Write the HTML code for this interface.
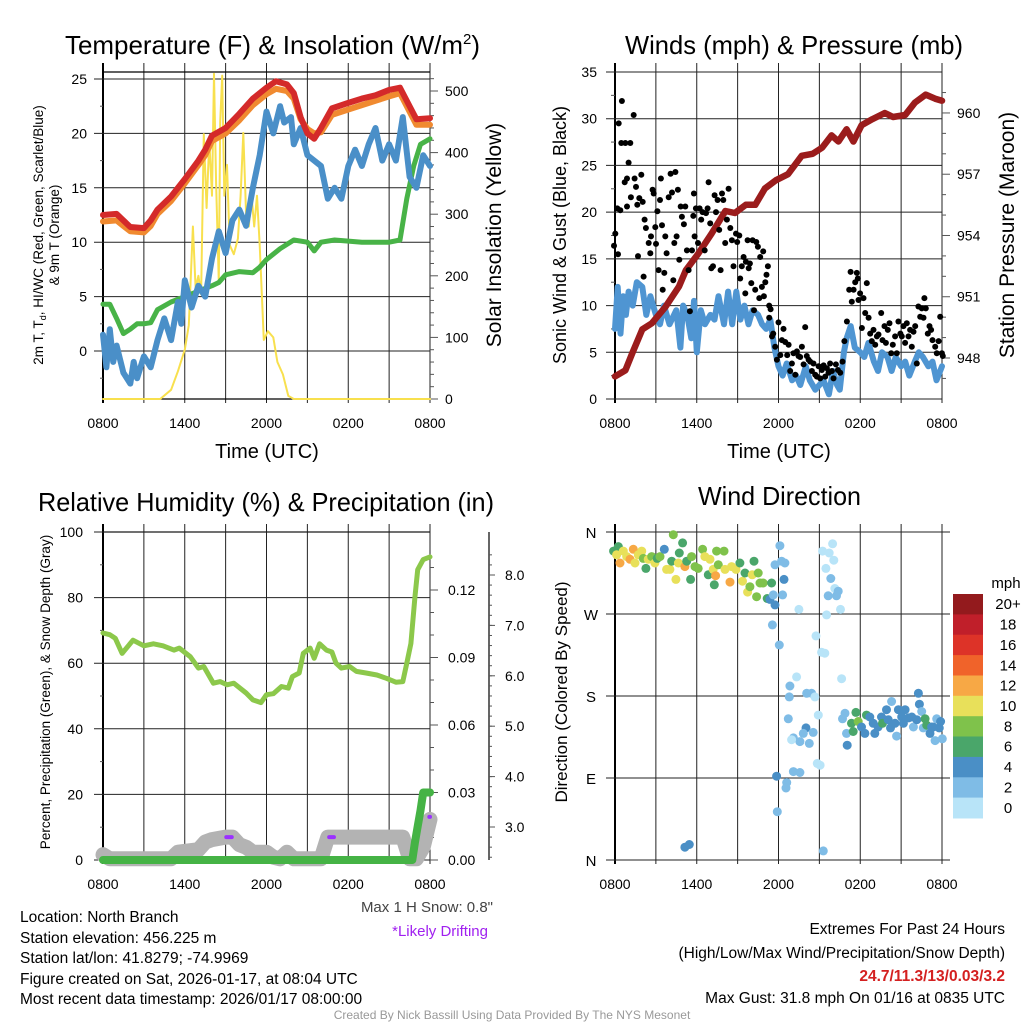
<!DOCTYPE html>
<html><head><meta charset="utf-8"><title>NYS Mesonet North Branch Meteogram</title>
<style>
html,body{margin:0;padding:0;background:#fff;}
svg{display:block;font-family:"Liberation Sans",sans-serif;}
</style></head>
<body>
<svg id="fig" width="1024" height="1024" viewBox="0 0 1024 1024" xmlns="http://www.w3.org/2000/svg">
<rect x="0" y="0" width="1024" height="1024" fill="#fff"/>
<g id="layer"></g>
<!-- titles -->
<text x="65" y="54" font-size="26" textLength="415" lengthAdjust="spacingAndGlyphs">Temperature (F) &amp; Insolation (W/m<tspan font-size="15" dy="-10">2</tspan><tspan dy="10">)</tspan></text>
<text x="625" y="54" font-size="26" textLength="338" lengthAdjust="spacingAndGlyphs">Winds (mph) &amp; Pressure (mb)</text>
<text x="38" y="511" font-size="26" textLength="456" lengthAdjust="spacingAndGlyphs">Relative Humidity (%) &amp; Precipitation (in)</text>
<text x="698" y="505" font-size="26" textLength="163" lengthAdjust="spacingAndGlyphs">Wind Direction</text>
<!-- axis titles -->
<text x="267" y="458" font-size="20" text-anchor="middle">Time (UTC)</text>
<text x="779" y="458" font-size="20" text-anchor="middle">Time (UTC)</text>
<text transform="translate(43,235) rotate(-90)" font-size="13.5" text-anchor="middle">2m T, T<tspan font-size="9" dy="3">d</tspan><tspan dy="-3">, HI/WC (Red, Green, Scarlet/Blue)</tspan></text>
<text transform="translate(59,235) rotate(-90)" font-size="13.5" text-anchor="middle">&amp; 9m T (Orange)</text>
<text transform="translate(501,235) rotate(-90)" font-size="21" text-anchor="middle">Solar Insolation (Yellow)</text>
<text transform="translate(566,235) rotate(-90)" font-size="18" text-anchor="middle">Sonic Wind &amp; Gust (Blue, Black)</text>
<text transform="translate(1014,235) rotate(-90)" font-size="21" text-anchor="middle">Station Pressure (Maroon)</text>
<text transform="translate(50,692) rotate(-90)" font-size="13.5" text-anchor="middle">Percent, Precipitation (Green), &amp; Snow Depth (Gray)</text>
<text transform="translate(567,692) rotate(-90)" font-size="17" text-anchor="middle">Direction (Colored By Speed)</text>
<!-- notes -->
<text x="493" y="912" font-size="15" text-anchor="end" fill="#444">Max 1 H Snow: 0.8"</text>
<text x="488" y="936" font-size="15" text-anchor="end" fill="#a020f0">*Likely Drifting</text>
<g font-size="15.5">
<text x="20" y="922">Location: North Branch</text>
<text x="20" y="943">Station elevation: 456.225 m</text>
<text x="20" y="963">Station lat/lon: 41.8279; -74.9969</text>
<text x="20" y="984">Figure created on Sat, 2026-01-17, at 08:04 UTC</text>
<text x="20" y="1004">Most recent data timestamp: 2026/01/17 08:00:00</text>
</g>
<g font-size="15.5" text-anchor="end">
<text x="1005" y="934">Extremes For Past 24 Hours</text>
<text x="1005" y="958">(High/Low/Max Wind/Precipitation/Snow Depth)</text>
<text x="1005" y="981" fill="#d42020" font-weight="bold">24.7/11.3/13/0.03/3.2</text>
<text x="1005" y="1003">Max Gust: 31.8 mph On 01/16 at 0835 UTC</text>
</g>
<text x="512" y="1019" font-size="12" text-anchor="middle" fill="#999">Created By Nick Bassill Using Data Provided By The NYS Mesonet</text>
</svg>
<script>
// ---------- DATA ----------
const timeLabels = ["0800","1400","2000","0200","0800"];
// Temperature panel
const tempHours = [0,1,1.5,2,3,3.5,4,5,6,7,7.5,8,9,10,11,12,12.7,13.5,14,14.5,15,15.5,16,16.8,18,19,20,21,21.8,22.5,23,24];
const tempValues = [12.5,12.6,12.0,11.4,11.3,12.0,13.0,14.2,15.8,17.5,18.5,19.8,20.5,21.8,23.2,24.2,24.8,24.5,23.7,21.5,20.0,19.5,20.5,22.3,22.8,23.2,23.5,24.0,24.2,22.5,21.3,21.4];
const temp9mValues = [11.9,12.0,11.5,11.0,10.9,11.5,12.6,13.8,15.4,17.1,18.0,19.3,20.0,21.2,22.6,23.6,24.1,23.9,23.2,21.3,20.4,20.0,20.1,21.7,22.2,22.6,23.0,23.4,23.7,22.0,20.8,20.8];
const wcHours = [0,0.25,0.5,0.75,1,1.5,2,2.25,2.5,3,3.5,4,4.5,5,5.5,5.75,6,6.5,7,7.5,8,8.5,9,9.5,10,10.5,11,11.5,12,12.5,13,13.3,13.8,14,14.5,15,16,16.5,17,17.5,18,18.5,19,19.5,20,20.5,21,21.5,22,22.5,23,23.5,24];
const wcValues = [1.5,-1.5,2.0,-1.0,0.5,-2.0,-3.0,-1.0,-2.5,-0.5,-1.5,1.0,3.0,1.0,4.5,2.5,6.5,4.0,6.0,5.0,8.5,11.0,9.0,12.0,13.0,11.5,15.0,18.0,22.0,20.0,22.5,21.0,21.5,19.0,20.5,18.0,17.0,14.0,15.0,14.0,17.0,18.5,17.0,19.0,20.5,17.5,19.0,17.5,21.5,16.0,15.0,18.0,17.0];
const dewHours = [0,0.5,1,1.5,2,2.5,3,3.5,4,5,6,7,8,8.5,9,10,11,11.5,12,13,14,15,15.5,16,17,18,19,20,21,21.8,22.3,22.8,23.3,24];
const dewValues = [4.3,4.3,3.0,1.6,2.0,2.5,2.5,2.6,3.8,4.5,5.0,5.5,6.0,6.3,7.0,7.3,7.2,7.7,8.4,9.4,10.2,10.0,9.2,10.0,10.2,10.1,10.0,10.0,10.0,10.2,14.0,17.0,19.0,19.5];
const solarHours = [0,4.2,5,5.5,6,6.3,6.6,6.8,7,7.2,7.4,7.6,7.8,8.0,8.15,8.3,8.5,8.6,8.75,8.9,9.1,9.3,9.6,9.9,10.1,10.3,10.5,10.7,10.9,11.1,11.3,11.5,11.8,12.1,12.5,12.8,13.2,13.6,14,24];
const solarValues = [0,0,15,45,80,120,280,180,200,170,430,310,420,330,528,350,190,450,525,330,380,250,235,260,330,432,300,280,330,280,330,250,96,110,100,60,40,5,0,0];
const tempTicks = [0,5,10,15,20,25];
const solarTicks = [0,100,200,300,400,500];
// Wind panel
const windHours = [0,0.2,0.4,0.6,0.8,1,1.3,1.6,2,2.3,2.6,3,3.3,3.6,4,4.5,4.8,5,5.3,5.6,5.8,6,6.3,6.6,7,7.3,7.6,8,8.3,8.6,8.9,9.2,9.5,9.8,10.1,10.5,10.8,11.1,11.4,11.7,12,12.3,12.6,13,13.3,13.6,14,14.3,14.7,15,15.3,15.7,16,16.3,16.5,16.8,17,17.3,17.6,18,18.3,18.6,19,19.3,19.6,20,20.3,20.6,21,21.3,21.6,22,22.3,22.6,23,23.3,23.6,24];
const windValues = [7.5,12,7,11,9,11.5,10,12.5,12,9,11,9,8,10,8,9.5,5.5,10,9,6.5,10.5,5,9.5,8,9,8.5,11,8,11.5,8,11.5,8.5,10,8,9.5,9,8,7.5,8.5,5.5,3.5,2.5,3.8,2,2.5,1.5,3.5,2,1,1.5,2,0.5,3,1.5,1,5,6.5,7.8,5.5,5,4.5,6,4,3,5,4.5,3,4.5,3.5,4,2.5,4,5,4.5,3.5,4,2,3.5];
const gustHours = [-0.07,0.02,0.17,0.22,0.27,0.39,0.51,0.46,0.76,0.71,0.88,1.0,1.12,1.17,0.88,1.37,1.44,1.54,1.64,1.69,1.78,1.93,2.03,2.10,2.17,2.27,2.47,2.59,2.64,2.76,2.84,2.96,3.01,3.11,3.20,3.30,3.37,3.45,3.50,3.62,3.69,3.79,3.94,4.08,4.18,4.28,4.35,4.43,4.52,4.62,4.72,4.82,4.91,5.06,5.16,5.28,5.40,5.50,5.65,5.75,5.79,5.84,5.94,6.09,6.21,6.33,6.43,6.58,6.68,6.80,6.87,6.99,7.07,7.19,7.31,7.41,7.53,7.65,7.75,7.85,7.95,8.09,8.21,8.34,8.46,8.58,8.70,8.88,8.97,9.12,9.19,9.31,9.44,9.56,9.61,9.73,9.81,9.90,10.00,10.10,10.20,10.29,10.37,10.49,10.59,10.66,10.78,10.88,10.93,11.03,11.12,11.22,11.32,11.42,11.32,11.52,11.61,11.76,11.88,12.00,12.13,12.25,12.37,12.49,12.64,12.74,12.86,12.98,13.10,13.23,13.35,13.47,13.59,13.72,13.84,13.96,14.08,14.21,14.33,14.45,14.57,14.69,14.82,14.94,15.06,15.18,15.31,15.43,15.55,15.67,15.79,15.92,16.04,16.21,16.36,16.53,16.70,16.84,17.02,17.19,17.29,17.38,17.51,17.63,17.75,17.82,17.87,17.99,18.12,18.24,18.36,18.48,18.61,18.73,18.85,18.97,19.10,19.22,19.34,19.54,19.63,19.78,19.88,20.02,20.15,20.27,20.39,20.56,20.68,20.80,20.95,21.05,21.17,21.29,21.42,21.54,21.66,21.78,21.91,22.03,22.15,22.27,22.40,22.52,22.64,22.71,22.81,22.96,23.08,23.20,23.30,23.50,23.62,23.75,23.87,23.99,24.06];
const gustValues = [16.4,17.7,20.4,15.5,29.5,20.2,31.9,27.4,27.4,23.2,23.6,25.3,27.4,21.6,20.6,30.4,23.6,22.7,20.8,15.3,21.5,24.0,21.1,13.1,19.2,18.3,16.7,15.6,17.4,22.4,22.0,18.4,16.6,20.1,13.8,21.3,23.6,18.6,11.7,13.5,17.4,15.6,21.6,24.1,22.1,12.7,16.7,24.3,17.4,22.4,14.9,20.6,19.5,18.7,20.6,15.9,13.8,9.4,15.9,19.6,22.0,17.4,20.4,16.7,20.4,19.2,20.0,15.9,19.9,20.4,23.2,18.8,14.0,14.2,21.8,20.0,21.3,18.1,13.8,22.0,21.3,16.7,19.2,22.5,18.3,17.0,14.2,17.7,16.8,17.5,12.9,14.2,15.2,11.3,14.7,17.0,14.0,14.5,12.4,17.0,9.5,11.7,16.8,16.3,10.8,15.2,12.0,15.8,11.0,12.5,13.3,14.2,10.0,9.6,8.7,6.7,7.0,5.6,4.2,8.2,4.7,6.3,7.5,6.1,4.7,5.8,3.0,3.8,4.9,2.6,5.1,4.6,4.5,5.6,3.7,7.7,4.6,4.2,4.0,3.0,3.8,2.6,2.4,3.5,2.2,3.1,3.6,2.4,3.3,2.8,3.8,3.0,2.2,3.7,3.1,2.8,4.0,6.2,8.3,11.7,13.6,10.4,11.7,12.5,13.5,12.9,10.6,11.3,7.6,10.8,9.2,12.4,8.7,7.0,6.2,7.4,5.8,6.7,6.9,9.2,6.3,7.8,6.0,7.4,8.1,4.9,5.8,6.7,4.9,8.3,7.0,6.7,7.8,6.0,8.1,6.7,7.4,5.6,7.2,7.8,3.8,9.9,8.8,9.7,8.7,10.8,9.7,7.0,7.8,7.4,6.3,5.6,4.9,6.2,8.8,4.9,4.6];
const presHours = [0,0.76,1.25,2,2.7,3.7,4.7,5.2,6.1,7.1,8.1,8.8,9.6,10.3,11,11.8,12.7,13.7,14.5,15.2,15.9,16.4,17.0,17.5,18.1,18.9,19.8,20.4,21.3,22,22.8,23.5,24];
const presValues = [947.1,947.4,948.2,949.4,949.7,950.5,951.5,952.3,953.1,954.1,955.2,955.1,955.5,955.5,956.3,956.7,957.0,957.9,958.0,958.3,958.9,958.6,959.2,958.6,959.4,959.7,960.0,959.8,959.9,960.5,960.9,960.7,960.6];
const windTicks = [0,5,10,15,20,25,30,35];
const presTicks = [948,951,954,957,960];
// Humidity panel
const rhHours = [0,0.5,0.9,1.4,2.2,3,3.7,4.4,5.2,5.6,6.4,7,7.4,8.1,8.6,9.1,9.6,10.5,11,11.6,12,12.5,13.1,13.6,13.9,14.4,14.7,15.2,15.5,15.9,16.4,16.8,17.1,17.5,18.1,18.6,19.3,20.1,20.8,21.5,22,22.3,22.6,22.9,23.1,23.5,24];
const rhValues = [69.2,68.7,67.6,63,67,65.3,65.9,65.3,64,64.6,62,58.5,59,53.9,54.4,53.4,53.9,50.9,48.8,48,50.4,50.7,52.9,52.4,55.9,57,63,64.6,61.5,65.9,64,63.4,60,58.5,59,57.5,57,56.4,55.4,54.2,54.4,60,66,80.4,88.5,91.6,92.4];
const precipHours = [0,22.7,22.9,23.1,23.3,23.5,24];
const precipValues = [0,0,0.008,0.015,0.022,0.03,0.03];
const snowHours = [0,0.5,5,5.5,7,7.5,8,9,9.5,10,10.5,11,12,12.5,13,13.5,14,16,16.5,22,22.5,23,23.5,24];
const snowValues = [2.45,2.37,2.37,2.5,2.55,2.7,2.75,2.8,2.8,2.65,2.6,2.5,2.5,2.4,2.37,2.5,2.37,2.37,2.8,2.8,2.37,2.37,2.6,3.15];
const driftStart = [9.05,16.6,23.95];
const driftEnd = [9.45,16.95,24.0];
const driftDepth = [2.8,2.8,3.2];
const rhTicks = [0,20,40,60,80,100];
const precipTicks = [0,0.03,0.06,0.09,0.12];
const snowTicks = [3,4,5,6,7,8];
// Wind direction panel
const dirHours = [-0.1,0.24,0.12,0.37,0.61,0.86,1.1,1.34,1.47,1.71,1.96,2.08,2.27,2.44,2.69,2.93,3.1,3.3,3.62,3.79,4.03,4.16,4.28,4.47,4.65,4.72,4.96,5.13,5.26,5.55,5.62,5.87,6.11,6.43,6.6,6.85,6.97,7.21,7.29,7.38,7.46,7.58,8.0,8.07,8.44,8.56,8.88,9.17,9.36,9.54,9.73,9.9,10.07,10.2,10.39,10.51,10.64,10.88,11.17,11.37,11.49,11.74,
12.1,11.74,12.23,12.47,12.4,12.3,11.62,11.55,12.06,13.5,13.33,12.84,12.79,12.72,14.07,14.43,14.67,14.02,14.55,13.82,13.09,13.57,14.26,12.96,14.92,13.09,13.57,14.85,15.05,11.86,12.6,12.55,11.91,15.29,5.13,5.45,
15.24,15.72,15.97,15.48,15.84,16.06,16.13,15.65,16.26,16.38,16.55,15.53,14.75,15.16,15.4,16.63,
16.88,16.7,17.04,16.99,17.36,17.68,17.48,17.85,18.09,18.34,18.46,18.7,18.95,19.07,19.31,19.56,19.63,19.93,20.05,20.22,20.3,20.55,20.67,20.8,21.04,21.17,21.29,21.54,21.78,21.9,22.15,22.27,22.34,22.51,22.63,22.76,22.88,23.12,23.24,23.49,23.61,23.8,23.9,24.02,23.37];
const dirDegrees = [339,344,335,326,339,333,330,341,326,335,339,331,320,330,333,326,331,333,341,319,319,328,357,308,326,337,348,322,328,308,333,322,320,341,333,313,330,319,302,312,339,324,339,319,305,322,319,326,306,315,294,300,313,328,289,315,304,304,287,286,304,280,
345,324,328,326,308,291,291,258,236,275,201,191,179,155,183,183,179,145,140,139,134,130,128,132,159,97,96,106,104,92,85,79,53,10,14,17,
339,337,347,320,309,329,298,290,290,295,275,269,246,228,227,199,
161,155,126,139,150,162,141,152,146,139,159,157,150,139,146,157,150,165,154,145,174,150,136,165,157,150,165,156,157,146,154,183,171,163,145,155,148,139,146,131,155,145,152,133,146];
const dirSpeeds = [7,7,11,13,11,11,13,13,11,11,11,9,7,11,9,11,7,9,5,11,11,7,9,11,11,7,7,13,7,7,9,9,9,9,11,7,11,11,7,13,9,9,9,11,13,11,11,7,11,7,11,9,11,7,9,9,9,9,7,5,7,5,
3,3,3,3,5,3,3,3,3,1,1,3,3,3,3,3,1,5,3,3,3,3,3,1,1,3,3,1,1,5,3,3,3,3,5,5,
1,1,1,1,3,1,1,3,3,3,1,1,1,1,1,1,
3,3,5,3,7,7,7,9,5,5,7,5,5,5,5,5,7,5,5,5,3,5,3,5,5,5,5,5,5,3,5,5,5,3,3,7,7,5,5,3,3,5,5,3,5];
const dirTickLabels = ["N","E","S","W","N"];
const speedBinLabels = ["20+","18","16","14","12","10","8","6","4","2","0"];
const speedBinColors = ["#931a1d","#c01f2a","#dd3328","#f0632a","#f7a845","#e8e05a","#7fc24b","#4aa66a","#4a8fc6","#7fbce6","#b8e4f8"];

// ---------- DRAWING ----------
const NS = "http://www.w3.org/2000/svg";
const layer = document.getElementById("layer");
function mk(tag, attrs, parent) {
  const el = document.createElementNS(NS, tag);
  for (const k in attrs) el.setAttribute(k, attrs[k]);
  (parent || layer).appendChild(el);
  return el;
}
function line(x1,y1,x2,y2,stroke,w,name){
  const el = mk("line",{x1:x1,y1:y1,x2:x2,y2:y2,stroke:stroke,"stroke-width":w});
  
  
  return el;
}
function label(x,y,txt,anchor,size,name){
  const el = mk("text",{x:x,y:y,"text-anchor":anchor,"font-size":size});
  el.textContent = txt;
  
  
  return el;
}
function polyline(hours, vals, xf, yf, color, w, name){
  const pts = hours.map((h,i)=>xf(h).toFixed(1)+","+yf(vals[i]).toFixed(1)).join(" ");
  const el = mk("polyline",{points:pts,fill:"none",stroke:color,"stroke-width":w,"stroke-linejoin":"round","stroke-linecap":"round"});
  
  
  return el;
}
const PW = 327, HRS = 24;
function xAxisFn(x0){ return h => x0 + h*PW/HRS; }

function timeGrid(x0, yTop, yBot, labelY, prefix){
  const xf = xAxisFn(x0);
  for (let h=0; h<=24; h+=3){
    line(xf(h), yTop, xf(h), yBot+4, h===0?"#000":"#222", h===0?2:1, prefix+"-vgrid");
  }
  timeLabels.forEach((t,i)=>{ label(xf(i*6), labelY, t, "middle", 14, prefix+"-x-tick-label"); });
}

// ===== Panel 1: Temperature =====
(function(){
  const x0=103, xf=xAxisFn(x0);
  const yT = v => 351 - v*10.88;
  const yS = w => 399 - w*0.616;
  timeGrid(x0, 63, 399, 428, "temp");
  line(103,72,430,72,"#000",1.2,"temp-top-border");
  line(103,399,430,399,"#000",1.2,"temp-bottom-border");
  tempTicks.forEach(v=>{ line(94,yT(v),430,yT(v),"#222",1,"temp-hgrid"); label(87,yT(v)+5,String(v),"end",14,"temp-y-tick-label"); });
  for (let v=-2.5; v<=25; v+=5) line(100,yT(v),103,yT(v),"#555",1,"temp-minor-tick");
  for (let w=0; w<=520; w+=20) line(430,yS(w),w%100===0?438:434,yS(w),"#555",1,"solar-tick");
  solarTicks.forEach(w=>label(445,yS(w)+5,String(w),"start",14,"solar-y-tick-label"));
  polyline(solarHours, solarValues, xf, yS, "#f8e04e", 2, "solar-insolation-line");
  polyline(dewHours, dewValues, xf, yT, "#48b347", 5, "dewpoint-line");
  polyline(wcHours, wcValues, xf, yT, "#4a8fc8", 6, "wind-chill-line");
  polyline(tempHours, temp9mValues, xf, yT, "#f08a30", 6, "temp-9m-line");
  polyline(tempHours, tempValues, xf, yT, "#d42a2a", 6, "temp-2m-line");
})();

// ===== Panel 2: Winds =====
(function(){
  const x0=615, xf=xAxisFn(x0);
  const yW = v => 399 - v*327/35;
  const yP = p => 358 - (p-948)*20.42;
  timeGrid(x0, 63, 399, 428, "wind");
  windTicks.forEach(v=>{ line(606,yW(v),942,yW(v),"#222",1,"wind-hgrid"); label(597,yW(v)+5,String(v),"end",14,"wind-y-tick-label"); });
  for (let v=2.5; v<35; v+=5) line(611,yW(v),615,yW(v),"#555",1,"wind-minor-tick");
  for (let p=947; p<=961; p+=1) line(942,yP(p),(p-948)%3===0?950:946,yP(p),"#555",1,"pressure-tick");
  presTicks.forEach(p=>label(957,yP(p)+5,String(p),"start",14,"pressure-y-tick-label"));
  polyline(windHours, windValues, xf, yW, "#4f95d2", 6, "sonic-wind-line");
  polyline(presHours, presValues, xf, yP, "#9b1c1c", 6.5, "station-pressure-line");
  const g = mk("g",{});
  
  
  gustHours.forEach((h,i)=>{
    const c = mk("circle",{cx:xf(h).toFixed(1),cy:yW(gustValues[i]).toFixed(1),r:3,fill:"#000"},g);
    
    
  });
})();

// ===== Panel 3: Humidity =====
(function(){
  const x0=103, xf=xAxisFn(x0);
  const yR = v => 860 - v*3.28;
  const yPr = v => 860 - v*2250;
  const ySn = v => 827 - (v-3)*50.4;
  timeGrid(x0, 524, 860, 889, "rh");
  line(103,532,430,532,"#000",1.2,"rh-top-border");
  rhTicks.forEach(v=>{ line(94,yR(v),430,yR(v),"#222",1,"rh-hgrid"); label(83,yR(v)+5,String(v),"end",14,"rh-y-tick-label"); });
  for (let v=10; v<100; v+=20) line(100,yR(v),103,yR(v),"#555",1,"rh-minor-tick");
  for (let v=0; v<=0.135; v+=0.01) line(430,yPr(v),434,yPr(v),"#555",1,"precip-minor-tick");
  precipTicks.forEach(v=>{ line(430,yPr(v),438,yPr(v),"#555",1,"precip-tick"); label(448,yPr(v)+5,v.toFixed(2),"start",14,"precip-y-tick-label"); });
  line(489,532,489,860,"#000",1.2,"snow-axis-line");
  for (let v=2.4; v<=8.6; v+=0.2) line(489,ySn(v),492,ySn(v),"#555",1,"snow-minor-tick");
  snowTicks.forEach(v=>{ line(489,ySn(v),495,ySn(v),"#555",1,"snow-tick"); label(505,ySn(v)+5,v.toFixed(1),"start",14,"snow-y-tick-label"); });
  polyline(snowHours, snowValues, xf, ySn, "#b3b3b3", 15, "snow-depth-line");
  driftStart.forEach((h,i)=>{
    const el = mk("line",{x1:xf(h),y1:ySn(driftDepth[i]),x2:xf(driftEnd[i]),y2:ySn(driftDepth[i]),stroke:"#9b30ff","stroke-width":4,"stroke-linecap":"round"});
    
    
  });
  polyline(rhHours, rhValues, xf, yR, "#8cc84b", 5, "relative-humidity-line");
  polyline(precipHours, precipValues, xf, yPr, "#45b345", 8, "precipitation-line");
})();

// ===== Panel 4: Wind direction =====
(function(){
  const x0=615, xf=xAxisFn(x0);
  const yD = d => 860 - d*328/360;
  timeGrid(x0, 524, 860, 889, "dir");
  dirTickLabels.forEach((t,i)=>{ line(606,yD(i*90),950,yD(i*90),"#222",1,"dir-hgrid"); label(591,yD(i*90)+6,t,"middle",15,"dir-y-tick-label"); });
  function speedColor(s){
    const idx = Math.min(10, Math.floor(s/2));
    return speedBinColors[10-idx];
  }
  const g = mk("g",{});
  
  
  dirHours.forEach((h,i)=>{
    const c = mk("circle",{cx:xf(h).toFixed(1),cy:yD(dirDegrees[i]).toFixed(1),r:4.5,fill:speedColor(dirSpeeds[i])},g);
    
    
  });
  // colorbar
  label(1006,588,"mph","middle",15,"colorbar-title");
  const bh = 224/speedBinLabels.length;
  speedBinLabels.forEach((t,i)=>{
    const r = mk("rect",{x:953,y:(594+i*bh).toFixed(1),width:30,height:(bh+0.5).toFixed(1),fill:speedBinColors[i]});
    
    
    label(1008,594+i*bh+bh/2+5,t,"middle",15,"colorbar-label");
  });
})();
</script>
</body></html>
